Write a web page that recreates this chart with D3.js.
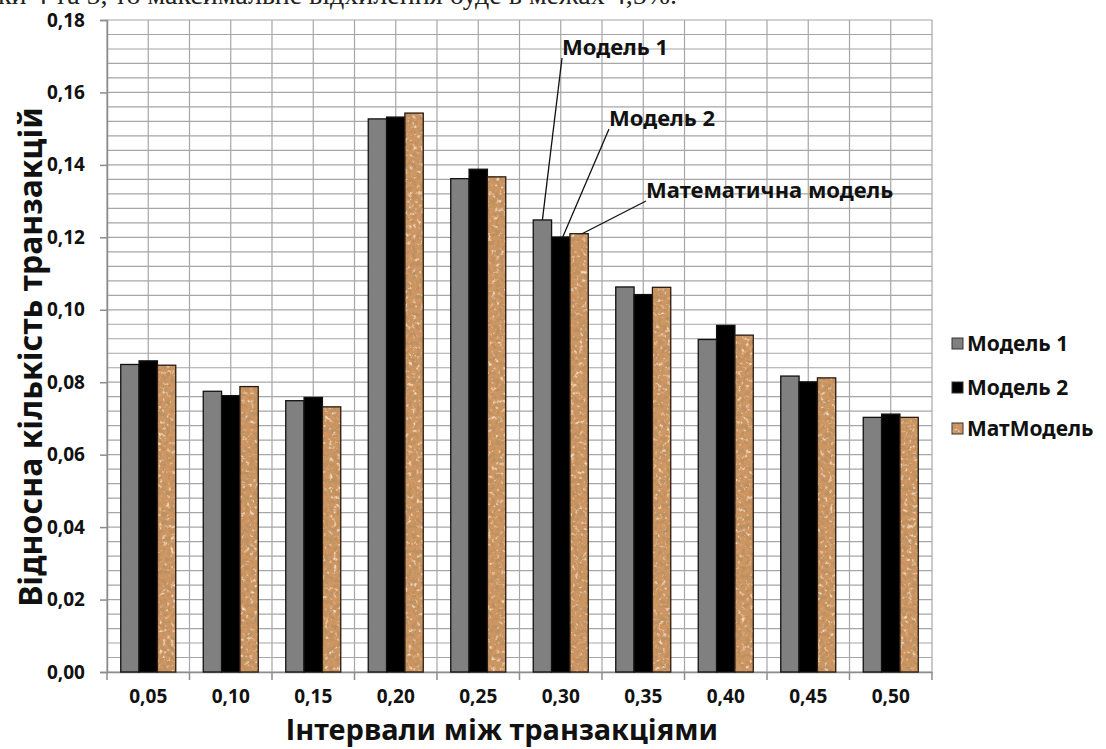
<!DOCTYPE html>
<html><head><meta charset="utf-8">
<script src="https://cdn.jsdelivr.net/npm/d3@7"></script>
<style>body{margin:0;background:#fff}svg{display:block}</style>
</head><body>
<svg id="c" width="1106" height="749"></svg>
<script>
const categories = ["0,05","0,10","0,15","0,20","0,25","0,30","0,35","0,40","0,45","0,50"];
const seriesNames = ["Модель 1","Модель 2","МатМодель"];
const model1 = [0.0849,0.0775,0.0749,0.1527,0.1362,0.1248,0.1063,0.0918,0.0817,0.0703];
const model2 = [0.0859,0.0763,0.0758,0.1532,0.1388,0.1201,0.1042,0.0957,0.0801,0.0712];
const matModel = [0.0847,0.0788,0.0732,0.1543,0.1367,0.1210,0.1062,0.0930,0.0812,0.0703];
const yTicks = [0,0.02,0.04,0.06,0.08,0.10,0.12,0.14,0.16,0.18];
const annotations = [
  {text:"Модель 1", series:0, cat:"0,30"},
  {text:"Модель 2", series:1, cat:"0,30"},
  {text:"Математична модель", series:2, cat:"0,30"}
];
const topText = "ки 4 та 5, то максимальне відхилення буде в межах 4,5%.";

const svg = d3.select("#c");
const font = "'Noto Sans', 'DejaVu Sans', sans-serif";
const L=107, R=932, T=20, B=672;
const x = d3.scaleBand().domain(categories).range([L,R]).padding(0);
const xs = d3.scaleBand().domain([0,1,2]).range([0,x.bandwidth()]).paddingInner(0).paddingOuter(0.75);
const y = d3.scaleLinear().domain([0,0.18]).range([B,T]);
const fmt = d3.formatLocale({decimal:",",thousands:" ",grouping:[3],currency:["",""]}).format(".2f");

// defs: cork texture
const defs = svg.append("defs");
const f = defs.append("filter").attr("id","cork").attr("x",0).attr("y",0).attr("width",1).attr("height",1);
f.append("feTurbulence").attr("type","fractalNoise").attr("baseFrequency","0.24").attr("numOctaves",3).attr("seed",7).attr("result","n");
f.append("feColorMatrix").attr("in","n").attr("type","matrix")
 .attr("values","0 0 0 0 0.50  0 0 0 0 0.28  0 0 0 0 0.12  -5 0 0 0 2.75").attr("result","dk");
f.append("feColorMatrix").attr("in","n").attr("type","matrix")
 .attr("values","0 0 0 0 0.90  0 0 0 0 0.70  0 0 0 0 0.50  0 4 0 0 -2.2").attr("result","lt");
f.append("feComposite").attr("in","dk").attr("in2","SourceGraphic").attr("operator","in").attr("result","dk2");
f.append("feComposite").attr("in","lt").attr("in2","SourceGraphic").attr("operator","in").attr("result","lt2");
const m = f.append("feMerge");
m.append("feMergeNode").attr("in","SourceGraphic");
m.append("feMergeNode").attr("in","lt2");
m.append("feMergeNode").attr("in","dk2");

// top cropped document text
svg.append("text").attr("x",-2).attr("y",4).attr("font-family","'Liberation Serif', serif")
  .attr("font-size",28).attr("fill","#222").text(topText);

// grid
const grid = svg.append("g").attr("stroke","#a6a6a6").attr("stroke-width",1.2);
const minor = d3.range(0,46).map(i=>i*0.004);
grid.selectAll("line.h").data(minor).join("line")
  .attr("x1",L).attr("x2",R).attr("y1",d=>y(d)).attr("y2",d=>y(d));
const vlines = [];
categories.forEach(c=>{vlines.push(x(c)); vlines.push(x(c)+x.bandwidth()/2);});
vlines.push(R);
grid.selectAll("line.v").data(vlines).join("line")
  .attr("x1",d=>d).attr("x2",d=>d).attr("y1",T).attr("y2",B);

// axes
const yAxis = svg.append("g").attr("transform",`translate(${L},0)`)
  .call(d3.axisLeft(y).tickValues(yTicks).tickFormat(fmt).tickSize(7).tickPadding(15));
yAxis.select(".domain").attr("stroke","#8c8c8c").attr("stroke-width",1.5);
yAxis.selectAll(".tick line").attr("stroke","#8c8c8c").attr("stroke-width",1.5);
yAxis.selectAll("text").attr("font-family",font).attr("font-weight","bold").attr("font-size",19).attr("fill","#111");

const xAxis = svg.append("g").attr("transform",`translate(0,${B})`)
  .call(d3.axisBottom(x).tickSize(0).tickPadding(18));
xAxis.select(".domain").attr("stroke","#8c8c8c").attr("stroke-width",1.5);
xAxis.selectAll("text").attr("font-family",font).attr("font-weight","bold").attr("font-size",19).attr("fill","#111");
svg.append("g").selectAll("line").data(categories.map(c=>x(c)).concat([R])).join("line")
  .attr("x1",d=>d).attr("x2",d=>d).attr("y1",B).attr("y2",B+8).attr("stroke","#8c8c8c").attr("stroke-width",1.5);

// bars
const seriesData = [model1, model2, matModel];
const fills = ["#808080","#000000","#cf9662"];
const bars = svg.append("g");
seriesData.forEach((arr,si)=>{
  bars.selectAll(`rect.s${si}`).data(arr).join("rect")
    .attr("class",`s${si}`)
    .attr("x",(d,i)=>x(categories[i])+xs(si))
    .attr("width",xs.bandwidth())
    .attr("y",d=>y(d)).attr("height",d=>B-y(d))
    .attr("fill",fills[si])
    .attr("filter",si===2?"url(#cork)":null);
  bars.selectAll(`rect.o${si}`).data(arr).join("rect")
    .attr("class",`o${si}`)
    .attr("x",(d,i)=>x(categories[i])+xs(si))
    .attr("width",xs.bandwidth())
    .attr("y",d=>y(d)).attr("height",d=>B-y(d))
    .attr("fill","none").attr("stroke",si===2?"#2a1a10":"#111").attr("stroke-width",1.3);
});

// annotations
const annPos = [[562,55],[609,126],[646,198]];
const annOff = [0,2,3];
annotations.forEach((a,k)=>{
  const arr = seriesData[a.series];
  const i = categories.indexOf(a.cat);
  const bx = x(a.cat)+xs(a.series)+xs.bandwidth()/2 + annOff[k];
  const by = y(arr[i]);
  const [tx,ty] = annPos[k];
  svg.append("line").attr("x1",tx).attr("y1",ty+3).attr("x2",bx).attr("y2",by)
    .attr("stroke","#111").attr("stroke-width",1.3);
  svg.append("text").attr("x",tx).attr("y",ty).attr("font-family",font).attr("font-weight","bold")
    .attr("font-size",22).attr("fill","#111").text(a.text);
});

// axis titles
svg.append("text").attr("x",502).attr("y",740).attr("text-anchor","middle")
  .attr("font-family",font).attr("font-weight","bold").attr("font-size",29).attr("fill","#111")
  .text("Інтервали між транзакціями");
svg.append("text").attr("transform","translate(42,357) rotate(-90)").attr("text-anchor","middle")
  .attr("font-family",font).attr("font-weight","bold").attr("font-size",32).attr("fill","#111")
  .text("Відносна кількість транзакцій");

// legend
const leg = svg.append("g");
const legY = [343,387,428];
seriesNames.forEach((n,i)=>{
  leg.append("rect").attr("x",952).attr("y",legY[i]-5).attr("width",11).attr("height",11)
    .attr("fill",fills[i]).attr("filter",i===2?"url(#cork)":null);
  leg.append("rect").attr("x",952).attr("y",legY[i]-5).attr("width",11).attr("height",11)
    .attr("fill","none").attr("stroke","#333").attr("stroke-width",1);
  leg.append("text").attr("x",967).attr("y",legY[i]+8).attr("font-family",font).attr("font-weight","bold")
    .attr("font-size",21).attr("fill","#111").text(n);
});
</script>
</body></html>
